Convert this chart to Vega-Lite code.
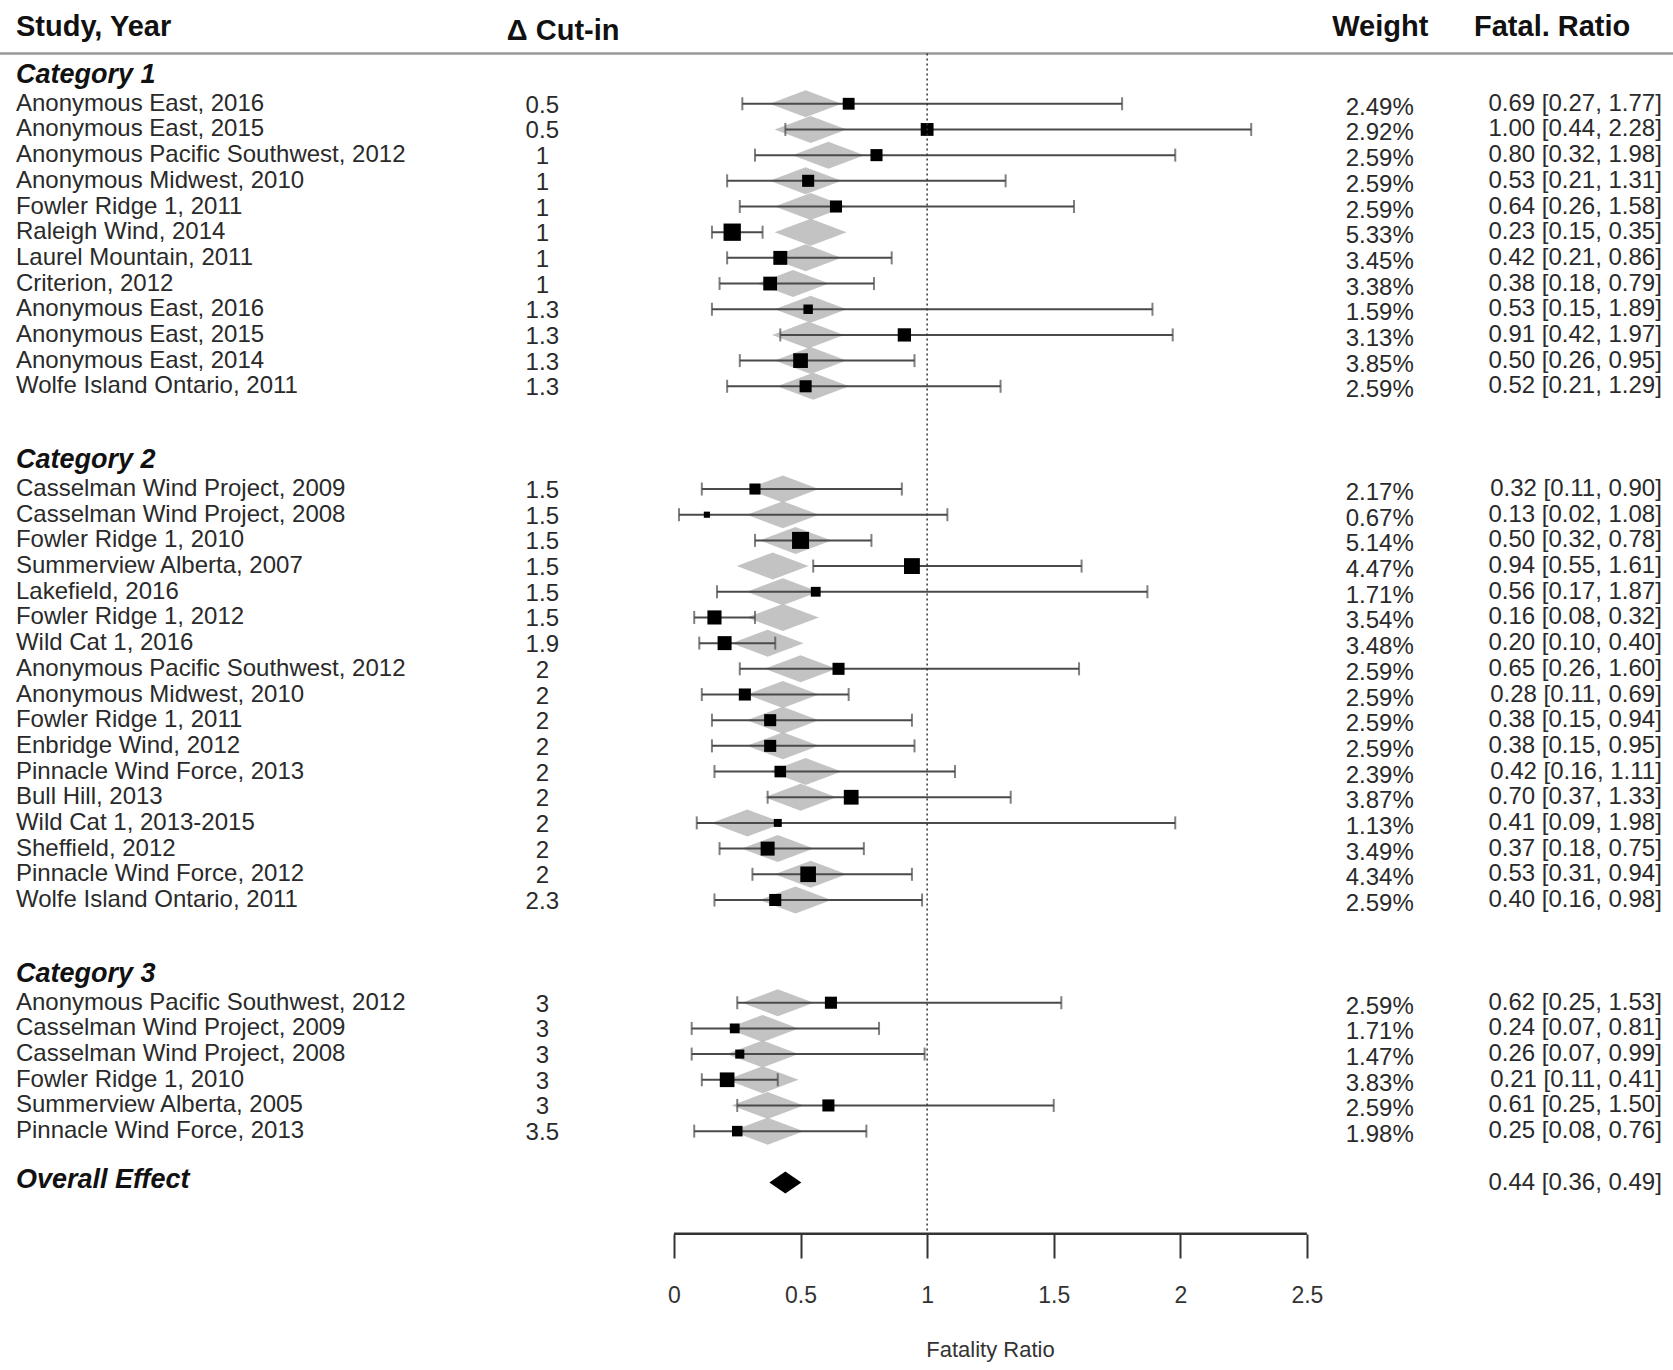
{
  "$schema": "https://vega.github.io/schema/vega-lite/v6.json",
  "width": 1673,
  "height": 1370,
  "autosize": "none",
  "padding": 0,
  "background": "white",
  "config": {"view": {"stroke": null}, "text": {"font": "Liberation Sans", "fontSize": 24, "color": "#2a2a2a", "baseline": "middle"}},
  "datasets": {
    "studies": [
      {"study": "Anonymous East, 2016", "cut": "0.5", "weight": 2.49, "fr": 0.69, "lo": 0.27, "hi": 1.77, "row": 3, "dc": 0.52},
      {"study": "Anonymous East, 2015", "cut": "0.5", "weight": 2.92, "fr": 1.00, "lo": 0.44, "hi": 2.28, "row": 4, "dc": 0.54},
      {"study": "Anonymous Pacific Southwest, 2012", "cut": "1", "weight": 2.59, "fr": 0.80, "lo": 0.32, "hi": 1.98, "row": 5, "dc": 0.61},
      {"study": "Anonymous Midwest, 2010", "cut": "1", "weight": 2.59, "fr": 0.53, "lo": 0.21, "hi": 1.31, "row": 6, "dc": 0.52},
      {"study": "Fowler Ridge 1, 2011", "cut": "1", "weight": 2.59, "fr": 0.64, "lo": 0.26, "hi": 1.58, "row": 7, "dc": 0.54},
      {"study": "Raleigh Wind, 2014", "cut": "1", "weight": 5.33, "fr": 0.23, "lo": 0.15, "hi": 0.35, "row": 8, "dc": 0.54},
      {"study": "Laurel Mountain, 2011", "cut": "1", "weight": 3.45, "fr": 0.42, "lo": 0.21, "hi": 0.86, "row": 9, "dc": 0.52},
      {"study": "Criterion, 2012", "cut": "1", "weight": 3.38, "fr": 0.38, "lo": 0.18, "hi": 0.79, "row": 10, "dc": 0.47},
      {"study": "Anonymous East, 2016", "cut": "1.3", "weight": 1.59, "fr": 0.53, "lo": 0.15, "hi": 1.89, "row": 11, "dc": 0.54},
      {"study": "Anonymous East, 2015", "cut": "1.3", "weight": 3.13, "fr": 0.91, "lo": 0.42, "hi": 1.97, "row": 12, "dc": 0.53},
      {"study": "Anonymous East, 2014", "cut": "1.3", "weight": 3.85, "fr": 0.50, "lo": 0.26, "hi": 0.95, "row": 13, "dc": 0.54},
      {"study": "Wolfe Island Ontario, 2011", "cut": "1.3", "weight": 2.59, "fr": 0.52, "lo": 0.21, "hi": 1.29, "row": 14, "dc": 0.55},
      {"study": "Casselman Wind Project, 2009", "cut": "1.5", "weight": 2.17, "fr": 0.32, "lo": 0.11, "hi": 0.90, "row": 18, "dc": 0.43},
      {"study": "Casselman Wind Project, 2008", "cut": "1.5", "weight": 0.67, "fr": 0.13, "lo": 0.02, "hi": 1.08, "row": 19, "dc": 0.43},
      {"study": "Fowler Ridge 1, 2010", "cut": "1.5", "weight": 5.14, "fr": 0.50, "lo": 0.32, "hi": 0.78, "row": 20, "dc": 0.48},
      {"study": "Summerview Alberta, 2007", "cut": "1.5", "weight": 4.47, "fr": 0.94, "lo": 0.55, "hi": 1.61, "row": 21, "dc": 0.39},
      {"study": "Lakefield, 2016", "cut": "1.5", "weight": 1.71, "fr": 0.56, "lo": 0.17, "hi": 1.87, "row": 22, "dc": 0.43},
      {"study": "Fowler Ridge 1, 2012", "cut": "1.5", "weight": 3.54, "fr": 0.16, "lo": 0.08, "hi": 0.32, "row": 23, "dc": 0.43},
      {"study": "Wild Cat 1, 2016", "cut": "1.9", "weight": 3.48, "fr": 0.20, "lo": 0.10, "hi": 0.40, "row": 24, "dc": 0.37},
      {"study": "Anonymous Pacific Southwest, 2012", "cut": "2", "weight": 2.59, "fr": 0.65, "lo": 0.26, "hi": 1.60, "row": 25, "dc": 0.50},
      {"study": "Anonymous Midwest, 2010", "cut": "2", "weight": 2.59, "fr": 0.28, "lo": 0.11, "hi": 0.69, "row": 26, "dc": 0.43},
      {"study": "Fowler Ridge 1, 2011", "cut": "2", "weight": 2.59, "fr": 0.38, "lo": 0.15, "hi": 0.94, "row": 27, "dc": 0.43},
      {"study": "Enbridge Wind, 2012", "cut": "2", "weight": 2.59, "fr": 0.38, "lo": 0.15, "hi": 0.95, "row": 28, "dc": 0.43},
      {"study": "Pinnacle Wind Force, 2013", "cut": "2", "weight": 2.39, "fr": 0.42, "lo": 0.16, "hi": 1.11, "row": 29, "dc": 0.52},
      {"study": "Bull Hill, 2013", "cut": "2", "weight": 3.87, "fr": 0.70, "lo": 0.37, "hi": 1.33, "row": 30, "dc": 0.50},
      {"study": "Wild Cat 1, 2013-2015", "cut": "2", "weight": 1.13, "fr": 0.41, "lo": 0.09, "hi": 1.98, "row": 31, "dc": 0.29},
      {"study": "Sheffield, 2012", "cut": "2", "weight": 3.49, "fr": 0.37, "lo": 0.18, "hi": 0.75, "row": 32, "dc": 0.41},
      {"study": "Pinnacle Wind Force, 2012", "cut": "2", "weight": 4.34, "fr": 0.53, "lo": 0.31, "hi": 0.94, "row": 33, "dc": 0.54},
      {"study": "Wolfe Island Ontario, 2011", "cut": "2.3", "weight": 2.59, "fr": 0.40, "lo": 0.16, "hi": 0.98, "row": 34, "dc": 0.48},
      {"study": "Anonymous Pacific Southwest, 2012", "cut": "3", "weight": 2.59, "fr": 0.62, "lo": 0.25, "hi": 1.53, "row": 38, "dc": 0.41},
      {"study": "Casselman Wind Project, 2009", "cut": "3", "weight": 1.71, "fr": 0.24, "lo": 0.07, "hi": 0.81, "row": 39, "dc": 0.35},
      {"study": "Casselman Wind Project, 2008", "cut": "3", "weight": 1.47, "fr": 0.26, "lo": 0.07, "hi": 0.99, "row": 40, "dc": 0.35},
      {"study": "Fowler Ridge 1, 2010", "cut": "3", "weight": 3.83, "fr": 0.21, "lo": 0.11, "hi": 0.41, "row": 41, "dc": 0.35},
      {"study": "Summerview Alberta, 2005", "cut": "3", "weight": 2.59, "fr": 0.61, "lo": 0.25, "hi": 1.50, "row": 42, "dc": 0.37},
      {"study": "Pinnacle Wind Force, 2013", "cut": "3.5", "weight": 1.98, "fr": 0.25, "lo": 0.08, "hi": 0.76, "row": 43, "dc": 0.37}
    ],
    "groups": [
      {"label": "Category 1", "row": 2},
      {"label": "Category 2", "row": 17},
      {"label": "Category 3", "row": 37},
      {"label": "Overall Effect", "row": 45}
    ]
  },
  "data": {"name": "studies"},
  "transform": [
    {"calculate": "format(datum.weight, '.2f') + '%'", "as": "wlab"},
    {"calculate": "format(datum.fr, '.2f') + ' [' + format(datum.lo, '.2f') + ', ' + format(datum.hi, '.2f') + ']'", "as": "cilab"}
  ],
  "encoding": {
    "y": {"field": "row", "type": "quantitative", "scale": {"domain": [-1.04, 52.3], "reverse": true, "nice": false, "zero": false}, "axis": null}
  },
  "layer": [
    {
      "mark": {"type": "point", "shape": "M-1,0L0,-0.375L1,0L0,0.375Z", "filled": true, "color": "#b8b8b8", "opacity": 0.85, "size": 5184},
      "encoding": {
        "x": {"field": "dc", "type": "quantitative", "scale": {"domain": [-2.662, 3.946], "nice": false, "zero": false},
          "title": "Fatality Ratio",
          "axis": {"values": [0, 0.5, 1, 1.5, 2, 2.5], "offset": -136, "domain": false, "grid": false, "tickSize": 24, "tickWidth": 2, "tickColor": "#333",
            "labelExpr": "'' + datum.value", "labelFont": "Liberation Sans", "labelFontSize": 23, "labelColor": "#333", "labelPadding": 26,
            "titleFont": "Liberation Sans", "titleFontSize": 22, "titleFontWeight": "normal", "titleColor": "#333", "titlePadding": 32, "titleX": 990, "titleAnchor": "middle"}}
      }
    },
    {
      "mark": {"type": "rule", "color": "#4a4a4a", "strokeWidth": 2},
      "encoding": {"x": {"field": "lo", "type": "quantitative"}, "x2": {"field": "hi"}}
    },
    {
      "mark": {"type": "tick", "orient": "vertical", "color": "#4a4a4a", "thickness": 2, "size": 13},
      "encoding": {"x": {"field": "lo", "type": "quantitative"}}
    },
    {
      "mark": {"type": "tick", "orient": "vertical", "color": "#4a4a4a", "thickness": 2, "size": 13},
      "encoding": {"x": {"field": "hi", "type": "quantitative"}}
    },
    {
      "mark": {"type": "square", "color": "black", "opacity": 1},
      "encoding": {
        "x": {"field": "fr", "type": "quantitative"},
        "size": {"field": "weight", "type": "quantitative", "scale": {"domain": [0, 5.33], "range": [0, 300]}, "legend": null}
      }
    },
    {
      "mark": {"type": "text", "align": "left"},
      "encoding": {"x": {"datum": -2.599, "type": "quantitative"}, "text": {"field": "study"}}
    },
    {
      "mark": {"type": "text", "align": "center", "dy": 2},
      "encoding": {"x": {"datum": -0.52, "type": "quantitative"}, "text": {"field": "cut"}}
    },
    {
      "mark": {"type": "text", "align": "right", "dy": 4},
      "encoding": {"x": {"datum": 2.922, "type": "quantitative"}, "text": {"field": "wlab"}}
    },
    {
      "mark": {"type": "text", "align": "right"},
      "encoding": {"x": {"datum": 3.902, "type": "quantitative"}, "text": {"field": "cilab"}}
    },
    {
      "data": {"name": "groups"},
      "mark": {"type": "text", "align": "left", "fontWeight": "bold", "fontStyle": "italic", "fontSize": 27, "color": "#111", "dy": -3},
      "encoding": {"x": {"datum": -2.599, "type": "quantitative"}, "text": {"field": "label"}}
    },
    {
      "data": {"values": [{"row": 45}]},
      "mark": {"type": "point", "shape": "M-1,0L0,-0.69L1,0L0,0.69Z", "filled": true, "color": "black", "opacity": 1, "size": 1024},
      "encoding": {"x": {"datum": 0.44, "type": "quantitative"}}
    },
    {
      "data": {"values": [{"row": 45, "t": "0.44 [0.36, 0.49]"}]},
      "mark": {"type": "text", "align": "right"},
      "encoding": {"x": {"datum": 3.902, "type": "quantitative"}, "text": {"field": "t"}}
    },
    {
      "data": {"values": [
        {"row": 0, "t": "Study, Year", "x": -2.599},
        {"row": 0.15, "t": "Δ Cut-in", "x": -0.66},
        {"row": 0, "t": "Weight", "x": 2.6},
        {"row": 0, "t": "Fatal. Ratio", "x": 3.16}
      ]},
      "mark": {"type": "text", "align": "left", "fontWeight": "bold", "fontSize": 29, "color": "#111"},
      "encoding": {"x": {"field": "x", "type": "quantitative"}, "text": {"field": "t"}}
    },
    {
      "data": {"values": [{"row": 1.04}]},
      "mark": {"type": "rule", "color": "#999", "strokeWidth": 2.5},
      "encoding": {"x": {"datum": -2.662, "type": "quantitative"}, "x2": {"datum": 3.946}}
    },
    {
      "data": {"values": [{"row": 1.04, "r2": 47}]},
      "mark": {"type": "rule", "color": "#333", "strokeWidth": 1.5, "strokeDash": [2, 3]},
      "encoding": {"x": {"datum": 1, "type": "quantitative"}, "y2": {"field": "r2"}}
    },
    {
      "data": {"values": [{"row": 47}]},
      "mark": {"type": "rule", "color": "#333", "strokeWidth": 2.5},
      "encoding": {"x": {"datum": 0, "type": "quantitative"}, "x2": {"datum": 2.5}}
    }
  ]
}
